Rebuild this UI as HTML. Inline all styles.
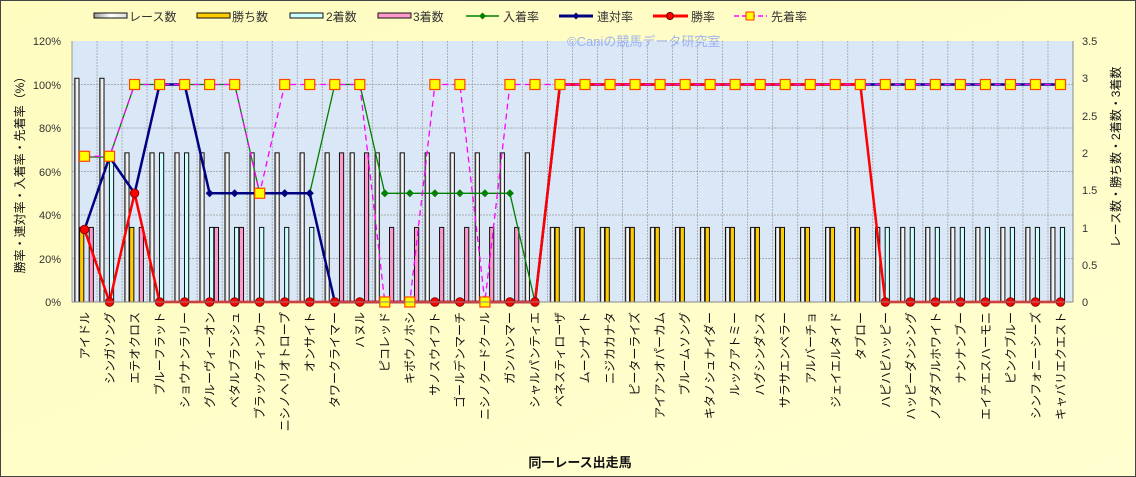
<!DOCTYPE html>
<html><head><meta charset="utf-8"><style>
html,body{margin:0;padding:0;}
body{width:1136px;height:477px;overflow:hidden;background:#fffec6;}
svg{display:block;font-family:"Liberation Sans","Noto Sans CJK JP",sans-serif;}
</style></head><body>
<svg id="c" width="1136" height="477" viewBox="0 0 1136 477" xmlns="http://www.w3.org/2000/svg">
<defs>
<linearGradient id="bg" x1="0" y1="0" x2="1" y2="1"><stop offset="0" stop-color="#fffcc0"/><stop offset="1" stop-color="#fffed0"/></linearGradient>
<linearGradient id="rg" x1="0" y1="0" x2="1" y2="0"><stop offset="0" stop-color="#999"/><stop offset="0.5" stop-color="#fff"/><stop offset="1" stop-color="#ddd"/></linearGradient>
</defs>
<rect x="0.5" y="0.5" width="1135" height="476" fill="url(#bg)" stroke="#444"/>
<rect x="72" y="41" width="1001" height="261" fill="#dae7f6"/>
<g id="grid"></g>
<g id="bars"></g>
<g id="lines"></g>
<line x1="72" y1="41" x2="72" y2="302" stroke="#999"/>
<line x1="1073" y1="41" x2="1073" y2="302" stroke="#888"/>
<line x1="72" y1="302" x2="1073" y2="302" stroke="#888"/>
<g font-size="11" fill="#333" text-anchor="end">
<text x="61" y="45">120%</text><text x="61" y="89">100%</text><text x="61" y="132">80%</text><text x="61" y="176">60%</text><text x="61" y="219">40%</text><text x="61" y="263">20%</text><text x="61" y="306">0%</text>
</g>
<g font-size="11" fill="#333">
<text x="1082" y="45">3.5</text><text x="1082" y="82">3</text><text x="1082" y="120">2.5</text><text x="1082" y="157">2</text><text x="1082" y="194">1.5</text><text x="1082" y="232">1</text><text x="1082" y="269">0.5</text><text x="1082" y="306">0</text>
</g>
<text x="0" y="0" font-size="12" fill="#111" text-anchor="middle" transform="translate(24,172) rotate(-90)">勝率・連対率・入着率・先着率（%）</text>
<text x="0" y="0" font-size="12" fill="#111" text-anchor="middle" transform="translate(1120,157) rotate(-90)">レース数・勝ち数・2着数・3着数</text>
<text x="580" y="467" font-size="13" font-weight="bold" fill="#111" text-anchor="middle">同一レース出走馬</text>
<text x="567" y="46" font-size="13" fill="#8fa8f0" opacity="0.85">©Caniの競馬データ研究室</text>
<g font-size="12" fill="#333">
<rect x="94" y="13" width="33" height="5" fill="url(#rg)" stroke="#111"/><text x="129" y="21">レース数</text>
<rect x="197" y="13" width="33" height="5" fill="#ffcc00" stroke="#111"/><text x="232" y="21">勝ち数</text>
<rect x="290" y="13" width="33" height="5" fill="#ccffff" stroke="#111"/><text x="326" y="21">2着数</text>
<rect x="378" y="13" width="33" height="5" fill="#ff99cc" stroke="#111"/><text x="413" y="21">3着数</text>
<line x1="466" y1="16" x2="499" y2="16" stroke="#008000" stroke-width="1.5"/><path d="M482.5 12.5l3.5 3.5-3.5 3.5-3.5-3.5z" fill="#008000"/><text x="503" y="21">入着率</text>
<line x1="559" y1="16" x2="593" y2="16" stroke="#000080" stroke-width="3"/><path d="M576 12.5l3.5 3.5-3.5 3.5-3.5-3.5z" fill="#000080"/><text x="597" y="21">連対率</text>
<line x1="653" y1="16" x2="688" y2="16" stroke="#ff0000" stroke-width="3"/><circle cx="670" cy="16" r="3.5" fill="#ff0000" stroke="#600"/><text x="691" y="21">勝率</text>
<line x1="734" y1="16" x2="767" y2="16" stroke="#ff00ff" stroke-width="1.5" stroke-dasharray="5,3"/><rect x="746" y="12" width="8" height="8" fill="#ffff00" stroke="#ff3300"/><text x="771" y="21">先着率</text>
</g>
<g font-size="12" fill="#111" text-anchor="end">
<text transform="translate(89,312) rotate(-90)">アイドル</text>
<text transform="translate(114,312) rotate(-90)">シンガソング</text>
<text transform="translate(139,312) rotate(-90)">エテオクロス</text>
<text transform="translate(164,312) rotate(-90)">ブルーフラット</text>
<text transform="translate(189,312) rotate(-90)">ショウナンラリー</text>
<text transform="translate(214,312) rotate(-90)">グルーヴィーオン</text>
<text transform="translate(239,312) rotate(-90)">ベタルブランシュ</text>
<text transform="translate(264,312) rotate(-90)">ブラックティンカー</text>
<text transform="translate(289,312) rotate(-90)">ニシノヘリオトロープ</text>
<text transform="translate(314,312) rotate(-90)">オンサイト</text>
<text transform="translate(339,312) rotate(-90)">タワークライマー</text>
<text transform="translate(364,312) rotate(-90)">ハヌル</text>
<text transform="translate(389,312) rotate(-90)">ピコレッド</text>
<text transform="translate(414,312) rotate(-90)">キボウノホシ</text>
<text transform="translate(439,312) rotate(-90)">サノスウイフト</text>
<text transform="translate(464,312) rotate(-90)">ゴールデンマーチ</text>
<text transform="translate(489,312) rotate(-90)">ニシノクードクール</text>
<text transform="translate(514,312) rotate(-90)">ガンハンマー</text>
<text transform="translate(539,312) rotate(-90)">シャルパンティエ</text>
<text transform="translate(564,312) rotate(-90)">ベネスティローザ</text>
<text transform="translate(589,312) rotate(-90)">ムーンナイト</text>
<text transform="translate(614,312) rotate(-90)">ニジカカナタ</text>
<text transform="translate(639,312) rotate(-90)">ピーターライズ</text>
<text transform="translate(664,312) rotate(-90)">アイアンオパーカム</text>
<text transform="translate(689,312) rotate(-90)">ブルームソング</text>
<text transform="translate(714,312) rotate(-90)">キタノシュナイダー</text>
<text transform="translate(739,312) rotate(-90)">ルックアトミー</text>
<text transform="translate(764,312) rotate(-90)">ハグシンダンス</text>
<text transform="translate(789,312) rotate(-90)">サラサエンペラー</text>
<text transform="translate(815,312) rotate(-90)">アルバーチョ</text>
<text transform="translate(840,312) rotate(-90)">ジェイエルタイド</text>
<text transform="translate(865,312) rotate(-90)">タブロー</text>
<text transform="translate(890,312) rotate(-90)">ハピハピハッピー</text>
<text transform="translate(915,312) rotate(-90)">ハッピーダンシング</text>
<text transform="translate(940,312) rotate(-90)">ノブダブルホワイト</text>
<text transform="translate(965,312) rotate(-90)">ナンナンブー</text>
<text transform="translate(990,312) rotate(-90)">エイチエスハーモニ</text>
<text transform="translate(1015,312) rotate(-90)">ピンクブルー</text>
<text transform="translate(1040,312) rotate(-90)">シンフォニーシーズ</text>
<text transform="translate(1065,312) rotate(-90)">キャバリエクエスト</text>
</g>
</svg>
<script>
(function(){
var NS="http://www.w3.org/2000/svg";
function el(p,t,a){var e=document.createElementNS(NS,t);for(var k in a)e.setAttribute(k,a[k]);p.appendChild(e);return e;}
var L=72,R=1073,T=41,B=302,cw=(R-L)/40;
var g=document.getElementById('grid');
for(var i=1;i<40;i++){var x=L+i*cw;el(g,'line',{x1:x,y1:T,x2:x,y2:B,stroke:'#999','stroke-dasharray':'2,1','stroke-width':0.7});}
for(var j=1;j<6;j++){var y=B-j*(B-T)/6;el(g,'line',{x1:L,y1:y,x2:R,y2:y,stroke:'#999','stroke-dasharray':'2,1','stroke-width':0.7});}
// data R,W,S,T
var d=[[3,1,0,1],[3,0,2,0],[2,1,0,1],[2,0,2,0],[2,0,2,0],[2,0,1,1],[2,0,1,1],[2,0,1,0],[2,0,1,0],[2,0,1,0],[2,0,0,2],[2,0,0,2],[2,0,0,1],[2,0,0,1],[2,0,0,1],[2,0,0,1],[2,0,0,1],[2,0,0,1],[2,0,0,0]];
for(i=19;i<32;i++)d.push([1,1,0,0]);
for(i=32;i<40;i++)d.push([1,0,1,0]);
var sen=[67,67,100,100,100,100,100,50,100,100,100,100,0,0,100,100,0,100,100];
for(i=19;i<40;i++)sen.push(100);
var bars=document.getElementById('bars');
var cols=['url(#rg)','#ffcc00','#ccffff','#ff99cc'];
var u=(B-T)/3.5;
for(i=0;i<40;i++){var x0=L+i*cw;
 for(var k=0;k<4;k++){var v=d[i][k];if(!v)continue;var h=v*u;
  el(bars,'rect',{x:x0+2.8+k*4.8,y:B-h,width:4.2,height:h,fill:cols[k],stroke:'#111','stroke-width':1});}}
var ln=document.getElementById('lines');
function yp(p){return B-p*(B-T)/120;}
function cx(i){return L+(i+0.5)*cw;}
function series(vals,col,w,dash,mk){
 var pts=vals.map(function(v,i){return cx(i).toFixed(1)+','+yp(v).toFixed(1);}).join(' ');
 var a={points:pts,fill:'none',stroke:col,'stroke-width':w,'stroke-linejoin':'round'};if(dash)a['stroke-dasharray']=dash;
 el(ln,'polyline',a);
 vals.forEach(function(v,i){var x=cx(i),y=yp(v);
  if(mk=='d')el(ln,'path',{d:'M'+x+' '+(y-4)+'l4 4-4 4-4-4z',fill:col});
  else if(mk=='c')el(ln,'circle',{cx:x,cy:y,r:4.3,fill:'#ff0000',stroke:'#700','stroke-width':0.8});
  else el(ln,'rect',{x:x-5,y:y-5,width:10,height:10,fill:'#ffff00',stroke:'#ff4400','stroke-width':1.2});});
}
var win=[],ren=[],nyu=[];
d.forEach(function(r){win.push(100*r[1]/r[0]);ren.push(100*(r[1]+r[2])/r[0]);nyu.push(100*(r[1]+r[2]+r[3])/r[0]);});
series(nyu,'#008000',1.3,null,'d');
series(ren,'#000080',2.5,null,'d');
series(win,'#ff0000',2.5,null,'c');
series(sen,'#ff00ff',1.3,'6,4','s');
})();
</script>
</body></html>
